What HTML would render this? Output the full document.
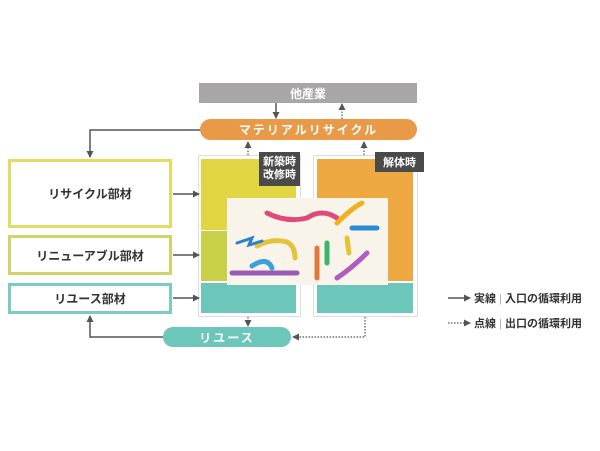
<!DOCTYPE html><html><head><meta charset="utf-8"><style>
body{margin:0;width:600px;height:451px;background:#fff;position:relative;font-family:"Liberation Sans","Noto Sans CJK JP",sans-serif;overflow:hidden}
.a{position:absolute;box-sizing:border-box}
.t{display:flex;align-items:center;justify-content:center;font-weight:bold}
</style></head><body>
<div class="a t" style="left:199px;top:83px;width:218px;height:20px;background:#a8a6a6;color:#fff;font-size:12px">他産業</div>
<div class="a t" style="left:200px;top:119px;width:217px;height:21px;background:#e99a48;border-radius:11px;color:#fff;font-size:12px;letter-spacing:2px">マテリアルリサイクル</div>
<div class="a t" style="left:8px;top:159px;width:164px;height:69px;border:3px solid #e2dc62;font-size:12px;color:#333">リサイクル部材</div>
<div class="a t" style="left:8px;top:235px;width:164px;height:40px;border:3px solid #cfd467;font-size:12px;color:#333">リニューアブル部材</div>
<div class="a t" style="left:8px;top:283px;width:164px;height:31px;border:3px solid #7ccbc1;font-size:12px;color:#333">リユース部材</div>
<div class="a" style="left:198px;top:155px;width:103px;height:162px;border:1px solid #ddd"></div>
<div class="a" style="left:201px;top:159px;width:95px;height:71px;background:#e1d544"></div>
<div class="a" style="left:201px;top:231px;width:95px;height:50px;background:#c7d046"></div>
<div class="a" style="left:201px;top:283px;width:95px;height:30px;background:#6cc6b9"></div>
<div class="a" style="left:313px;top:155px;width:105px;height:162px;border:1px solid #ddd"></div>
<div class="a" style="left:317px;top:159px;width:96px;height:122px;background:#eda842"></div>
<div class="a" style="left:317px;top:283px;width:96px;height:30px;background:#6cc6b9"></div>
<div class="a t" style="left:259px;top:152px;width:41px;height:34px;background:#4a4a4a;color:#fff;font-size:11px;line-height:13px;text-align:center">新築時<br>改修時</div>
<div class="a t" style="left:375px;top:152px;width:49px;height:20px;background:#4a4a4a;color:#fff;font-size:11px">解体時</div>
<div class="a" style="left:227px;top:198px;width:161px;height:87px;background:#f8f4ea"></div>
<svg class="a" style="left:227px;top:198px" width="161" height="87" fill="none" stroke-linecap="round" stroke-width="5">
<path d="M30 48 Q45 40 60 44 Q68 48 68 60" stroke="#e4c23a"/><path d="M5 75 L70 75" stroke="#9b59b6"/>
<path d="M25 68 Q40 58 45 70" stroke="#3aa0e0"/><path d="M10 45 L25 40 L22 47 L35 43" stroke="#2d7fd0" stroke-width="3"/>
<path d="M40 15 Q60 25 80 20 Q95 10 110 20" stroke="#e04a7a"/><path d="M110 25 Q125 10 135 5" stroke="#f0b020"/>
<path d="M125 30 L150 30" stroke="#2d8ad6"/><path d="M90 50 L90 80" stroke="#e07a3a"/><path d="M100 45 L100 65" stroke="#3bb56b"/>
<path d="M110 80 Q125 70 140 55" stroke="#b05cc0"/><path d="M120 40 L122 55" stroke="#e4c23a"/>
</svg>
<div class="a t" style="left:163px;top:327px;width:128px;height:20px;background:#6cc6b9;border-radius:10px;color:#fff;font-size:12px;letter-spacing:2px">リユース</div>
<svg class="a" style="left:0;top:0" width="600" height="451">
<defs><marker id="m" markerUnits="userSpaceOnUse" markerWidth="7" markerHeight="7" refX="6" refY="3.5" orient="auto"><path d="M0 0L7 3.5L0 7z" fill="#555"/></marker></defs>
<g stroke="#555" stroke-width="1.5" fill="none" marker-end="url(#m)">
<path d="M173 194H199"/><path d="M173 255H199"/><path d="M173 298H199"/>
<path d="M200 130H90V157"/>
<path d="M163 337H90V316"/>
<path d="M276 103V118"/>
<path d="M448 298H470"/>
</g>
<g stroke="#555" stroke-width="1.2" fill="none" stroke-dasharray="1.5 1.5" marker-end="url(#m)">
<path d="M342 119V104"/><path d="M248 155V142"/><path d="M364 155V142"/>
<path d="M248 317V326"/>
<path d="M365 317V337H293"/>
<path d="M448 323H470"/>
</g></svg>
<div class="a" style="left:474px;top:290px;font-size:11px;font-weight:bold;color:#333;white-space:nowrap">実線 <span style="color:#aaa;font-weight:normal">|</span> 入口の循環利用</div>
<div class="a" style="left:474px;top:315px;font-size:11px;font-weight:bold;color:#333;white-space:nowrap">点線 <span style="color:#aaa;font-weight:normal">|</span> 出口の循環利用</div>
</body></html>
